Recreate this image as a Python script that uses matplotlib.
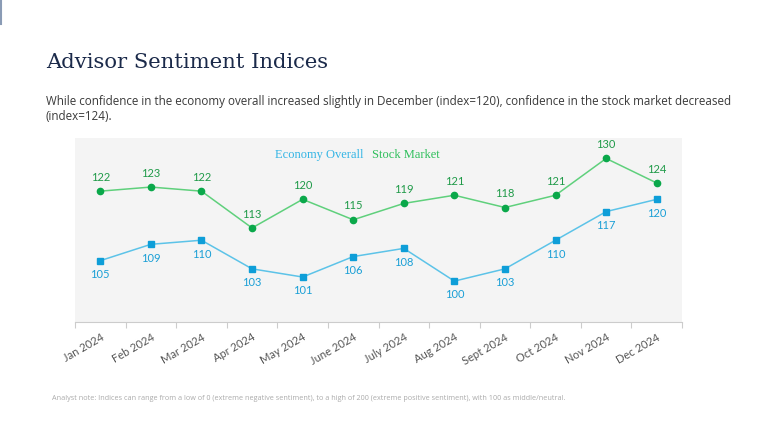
import matplotlib.pyplot as plt
import numpy as np

# Data
months = ["Jan 2024", "Feb 2024", "Mar 2024", "Apr 2024", "May 2024", "June 2024",
          "July 2024", "Aug 2024", "Sept 2024", "Oct 2024", "Nov 2024", "Dec 2024"]
economy = [105, 109, 110, 103, 101, 106, 108, 100, 103, 110, 117, 120]
stock = [122, 123, 122, 113, 120, 115, 119, 121, 118, 121, 130, 124]

# Colours
blue_line = "#5cc3e8"
blue_mark = "#0e9ed8"
green_line = "#5fd07c"
green_mark = "#0aa84a"

fig = plt.figure(figsize=(7.68, 4.32), dpi=100)
fig.patch.set_facecolor("white")

ax = fig.add_axes([75 / 768, 1 - 322 / 432, 607 / 768, 184 / 432])
ax.set_facecolor("#f4f4f4")

x = np.arange(len(months))
ax.plot(x, stock, color=green_line, lw=1.1, marker="o", ms=4.5,
        mfc=green_mark, mec=green_mark, zorder=3)
ax.plot(x, economy, color=blue_line, lw=1.1, marker="s", ms=4.5,
        mfc=blue_mark, mec=blue_mark, zorder=3)

for i in range(len(months)):
    ax.annotate(str(stock[i]), (x[i], stock[i]), xytext=(0, 6), textcoords="offset points",
                ha="center", va="bottom", fontsize=8, color="#1f9a48", family="Lato")
    ax.annotate(str(economy[i]), (x[i], economy[i]), xytext=(0, -6), textcoords="offset points",
                ha="center", va="top", fontsize=8, color="#1a9fd6", family="Lato")

ax.set_xlim(-0.5, 11.5)
ax.set_ylim(90, 135)
ax.set_yticks([])
ax.set_xticks(np.arange(-0.5, 12, 1))
ax.set_xticklabels([])
ax.set_xticks(x, minor=True)
ax.set_xticklabels(months, minor=True, rotation=30, ha="right", rotation_mode="anchor",
                   fontsize=8, color="#555555", family="Lato")
ax.tick_params(axis="x", which="major", length=4, color="#cccccc")
ax.tick_params(axis="x", which="minor", length=0, pad=7)
for s in ["top", "right", "left"]:
    ax.spines[s].set_visible(False)
ax.spines["bottom"].set_color("#cccccc")

# Legend as text
ax.text(0.330, 0.907, "Economy Overall", transform=ax.transAxes, color="#33b5e5",
        fontsize=9, family="Liberation Serif", va="center")
ax.text(0.489, 0.907, "Stock Market", transform=ax.transAxes, color="#2fbf5c",
        fontsize=9, family="Liberation Serif", va="center")

fig.text(46 / 768, 1 - 62 / 432, "Advisor Sentiment Indices", fontsize=15.2,
         color="#1b2a4a", family="DejaVu Serif", va="center")
fig.text(46 / 768, 1 - 101 / 432,
         "While confidence in the economy overall increased slightly in December (index=120), confidence in the stock market decreased",
         fontsize=8.4, color="#3a3a3a", family="Open Sans", va="center")
fig.text(46 / 768, 1 - 116 / 432, "(index=124).",
         fontsize=8.4, color="#3a3a3a", family="Open Sans", va="center")
fig.text(52 / 768, 1 - 398 / 432,
         "Analyst note: Indices can range from a low of 0 (extreme negative sentiment), to a high of 200 (extreme positive sentiment), with 100 as middle/neutral.",
         fontsize=5.2, color="#aaaaaa", family="Open Sans", va="center")

# small accent line top-left
fig.add_artist(plt.Line2D([1 / 768, 1 / 768], [1, 1 - 24 / 432], color="#8a9bb5", lw=1.5))

fig.savefig("out.png", dpi=100)
